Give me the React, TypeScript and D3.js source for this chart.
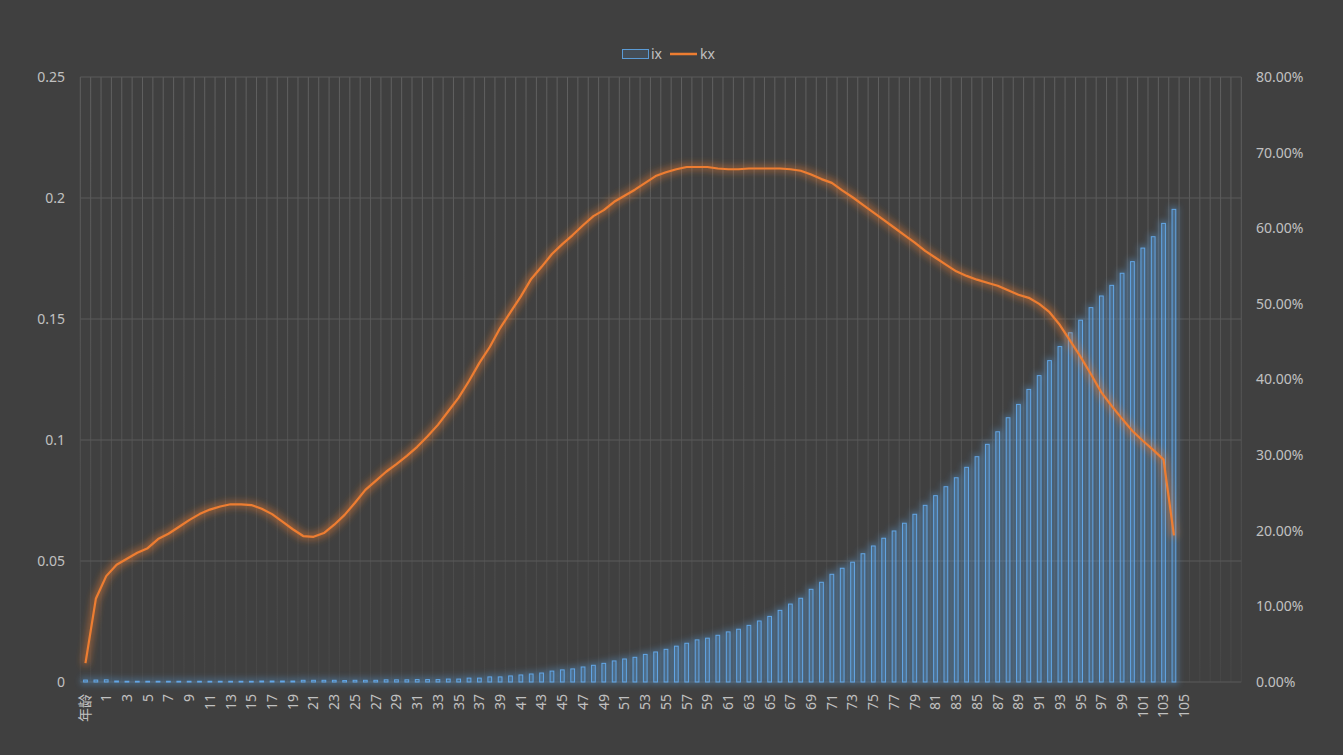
import React from "react";
import * as d3 from "d3";

// ---------- data ----------
const categories: string[] = [
  "年龄",
  ...d3.range(0, 106).map((d) => String(d)),
  "", "", "", "", "",
];

// ix (bars, left axis) for categories 年龄, 0 .. 104
const ixValues: number[] = [
  0.0008, 0.0008, 0.0009, 0.0004, 0.0003, 0.0003, 0.0003, 0.0003, 0.0003, 0.0003,
  0.0003, 0.0003, 0.0003, 0.0003, 0.0003, 0.0003, 0.0003, 0.0004, 0.0004, 0.0004,
  0.0004, 0.0007, 0.0007, 0.0007, 0.0007, 0.0006, 0.0007, 0.0007, 0.0007, 0.0009,
  0.0009, 0.0009, 0.001, 0.001, 0.001, 0.0012, 0.0012, 0.0016, 0.0016, 0.0021,
  0.0021, 0.0025, 0.0029, 0.0033, 0.0037, 0.0045, 0.005, 0.0054, 0.0062, 0.0069,
  0.0077, 0.0087, 0.0095, 0.0102, 0.0114, 0.0124, 0.0135, 0.0148, 0.016, 0.0174,
  0.0181, 0.0193, 0.0207, 0.0218, 0.0234, 0.0252, 0.0271, 0.0296, 0.0322, 0.0346,
  0.0383, 0.0412, 0.0445, 0.047, 0.0495, 0.053, 0.0562, 0.0594, 0.0624, 0.0656,
  0.0693, 0.073, 0.077, 0.0807, 0.0844, 0.0887, 0.0931, 0.0982, 0.1034, 0.1092,
  0.1147, 0.1209, 0.1266, 0.1328, 0.1386, 0.1443, 0.1495, 0.1547, 0.1595, 0.1639,
  0.1689, 0.1737, 0.1793, 0.184, 0.1895, 0.1953,
];

// kx (line, right axis, percent) for categories 年龄, 0 .. 104
const kxValues: number[] = [
  2.5, 11.0, 14.0, 15.5, 16.3, 17.1, 17.7, 18.9, 19.6, 20.5,
  21.4, 22.2, 22.8, 23.2, 23.5, 23.5, 23.4, 22.9, 22.2, 21.2,
  20.2, 19.3, 19.2, 19.7, 20.8, 22.1, 23.7, 25.4, 26.6, 27.8,
  28.8, 29.9, 31.1, 32.5, 34.0, 35.8, 37.6, 39.8, 42.2, 44.3,
  46.8, 48.9, 51.0, 53.3, 54.9, 56.6, 57.9, 59.1, 60.4, 61.6,
  62.4, 63.5, 64.3, 65.1, 66.0, 66.9, 67.4, 67.8, 68.1, 68.1,
  68.1, 67.9, 67.8, 67.8, 67.9, 67.9, 67.9, 67.9, 67.8, 67.6,
  67.1, 66.5, 66.0, 65.0, 64.1, 63.1, 62.1, 61.1, 60.1, 59.1,
  58.1, 57.0, 56.1, 55.2, 54.3, 53.7, 53.2, 52.8, 52.4, 51.8,
  51.2, 50.8, 50.0, 48.9, 47.2, 45.1, 43.0, 40.7, 38.3, 36.5,
  34.8, 33.2, 31.9, 30.7, 29.4, 19.4,
];

const leftTicks: number[] = [0, 0.05, 0.1, 0.15, 0.2, 0.25];
const rightTicks: number[] = [0, 10, 20, 30, 40, 50, 60, 70, 80];
const seriesNames: string[] = ["ix", "kx"];

// ---------- layout ----------
const W = 1343;
const H = 755;
const plotLeft = 80.3;
const plotRight = 1241.3;
const plotTop = 77;
const plotBottom = 682;
const FONT = "'Noto Sans', 'Noto Sans CJK SC', sans-serif";
const TEXT = "#c0c0c0";
const BLUE = "#5b9bd5";
const ORANGE = "#ed7d31";

export default function App() {
  const idx = d3.range(categories.length);
  const x = d3.scaleBand<number>().domain(idx).range([plotLeft, plotRight]).padding(0);
  const yL = d3.scaleLinear().domain([0, 0.25]).range([plotBottom, plotTop]);
  const yR = d3.scaleLinear().domain([0, 80]).range([plotBottom, plotTop]);
  const step = x.bandwidth();
  const barW = step * 0.36;

  const line = d3
    .line<number>()
    .x((_, i) => (x(i) as number) + step / 2)
    .y((d) => yR(d))
    .curve(d3.curveLinear);

  const boundaries = d3.range(categories.length + 1).map((i) => plotLeft + i * step);

  return (
    <div style={{ position: "fixed", left: 0, top: 0, width: W, height: H }}>
      <svg width={W} height={H} style={{ display: "block", background: "#404040" }}>
        <defs>
          <linearGradient id="vgrid" gradientUnits="userSpaceOnUse" x1="0" y1={plotTop} x2="0" y2={plotBottom}>
            <stop offset="0" stopColor="#606060" />
            <stop offset="0.5" stopColor="#555555" />
            <stop offset="1" stopColor="#474747" />
          </linearGradient>
          <filter id="glowB" filterUnits="userSpaceOnUse" x="0" y="0" width={W} height={H}>
            <feMorphology in="SourceAlpha" operator="dilate" radius="1.5" result="dil" />
            <feGaussianBlur in="dil" stdDeviation="3" result="blur" />
            <feFlood floodColor={BLUE} floodOpacity="0.5" />
            <feComposite in2="blur" operator="in" result="glow" />
            <feMerge>
              <feMergeNode in="glow" />
              <feMergeNode in="SourceGraphic" />
            </feMerge>
          </filter>
          <filter id="glowO" filterUnits="userSpaceOnUse" x="0" y="0" width={W} height={H}>
            <feMorphology in="SourceAlpha" operator="dilate" radius="2" result="dil" />
            <feGaussianBlur in="dil" stdDeviation="3.5" result="blur" />
            <feFlood floodColor={ORANGE} floodOpacity="0.5" />
            <feComposite in2="blur" operator="in" result="glow" />
            <feMerge>
              <feMergeNode in="glow" />
              <feMergeNode in="SourceGraphic" />
            </feMerge>
          </filter>
        </defs>

        {/* vertical gridlines */}
        {boundaries.map((bx, i) => (
          <line key={"v" + i} x1={bx} x2={bx} y1={plotTop} y2={plotBottom} stroke="url(#vgrid)" strokeWidth={1} />
        ))}
        {/* horizontal gridlines */}
        {leftTicks.map((t) => (
          <line key={"h" + t} x1={plotLeft} x2={plotRight} y1={yL(t)} y2={yL(t)} stroke="#5a5a5a" strokeWidth={1} />
        ))}

        {/* bars */}
        <g filter="url(#glowB)">
          {ixValues.map((v, i) => {
            const cx = (x(i) as number) + step / 2;
            const top = yL(v);
            return (
              <rect
                key={"b" + i}
                x={cx - barW / 2}
                y={top}
                width={barW}
                height={Math.max(plotBottom - top, 0.8)}
                fill="rgba(91,155,213,0.22)"
                stroke="#62a6e6"
                strokeWidth={1}
              />
            );
          })}
        </g>

        {/* line */}
        <g filter="url(#glowO)">
          <path d={line(kxValues) || ""} fill="none" stroke={ORANGE} strokeWidth={2.2} strokeLinejoin="round" />
        </g>

        {/* left axis labels */}
        {leftTicks.map((t) => (
          <text key={"l" + t} x={65} y={yL(t)} dy="0.35em" textAnchor="end" fill={TEXT} fontFamily={FONT} fontSize={14}>
            {String(t)}
          </text>
        ))}
        {/* right axis labels */}
        {rightTicks.map((t) => (
          <text key={"r" + t} x={1256} y={yR(t)} dy="0.35em" textAnchor="start" fill={TEXT} fontFamily={FONT} fontSize={14}>
            {t.toFixed(2) + "%"}
          </text>
        ))}
        {/* category labels */}
        {categories.map((c, i) =>
          i % 2 === 0 && c !== "" ? (
            <text
              key={"c" + i}
              transform={`translate(${(x(i) as number) + step / 2},${694}) rotate(-90)`}
              dy="0.35em"
              textAnchor="end"
              fill={TEXT}
              fontFamily={FONT}
              fontSize={14}
            >
              {c}
            </text>
          ) : null
        )}

        {/* legend */}
        <rect x={622.5} y={49.5} width={26} height={9} fill="rgba(91,155,213,0.15)" stroke={BLUE} strokeWidth={1} />
        <text x={651} y={54} dy="0.35em" fill={TEXT} fontFamily={FONT} fontSize={14}>
          {seriesNames[0]}
        </text>
        <line x1={670} x2={697} y1={54} y2={54} stroke={ORANGE} strokeWidth={2.5} />
        <text x={700} y={54} dy="0.35em" fill={TEXT} fontFamily={FONT} fontSize={14}>
          {seriesNames[1]}
        </text>
      </svg>
    </div>
  );
}
